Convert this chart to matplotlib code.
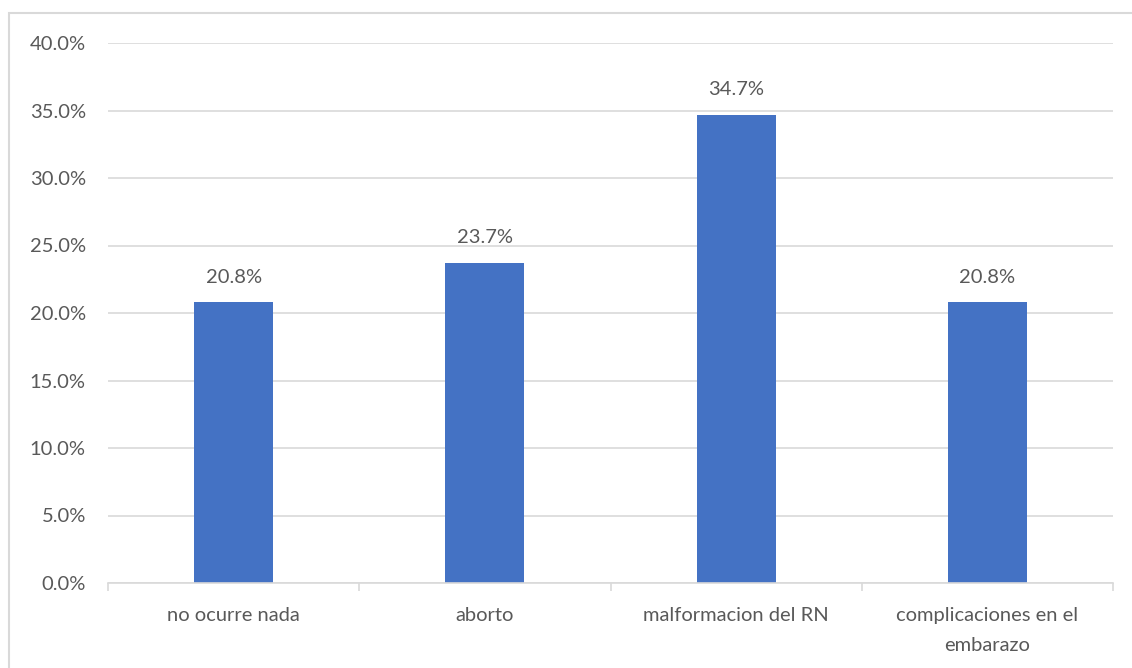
import matplotlib
matplotlib.use("Agg")
import matplotlib.pyplot as plt
from matplotlib.patches import Rectangle
from matplotlib.ticker import FuncFormatter, MultipleLocator

categories = ["no ocurre nada", "aborto", "malformacion del RN", "complicaciones en el\nembarazo"]
values = [20.8, 23.7, 34.7, 20.8]
labels = ["20.8%", "23.7%", "34.7%", "20.8%"]

plt.rcParams['font.family'] = ['Lato', 'DejaVu Sans']
W, H = 1132, 668
fig = plt.figure(figsize=(W / 100, H / 100), dpi=100)
fig.patch.set_facecolor("white")

# outer chart border (left and top visible)
fig.patches.append(Rectangle((9 / W, -0.1), 1.2, (H - 13) / H + 0.1, transform=fig.transFigure,
                             fill=False, edgecolor="#d9d9d9", linewidth=1.5))

ax = fig.add_axes([108 / W, (H - 583) / H, (1113 - 108) / W, (583 - 43) / H])
text_color = "#595959"
fs = 14.5
x = list(range(len(categories)))
bars = ax.bar(x, values, width=0.315, color="#4472C4", zorder=3)
ax.set_xlim(-0.5, len(categories) - 0.5)
ax.set_ylim(0, 40)
ax.yaxis.set_major_locator(MultipleLocator(5))
ax.yaxis.set_major_formatter(FuncFormatter(lambda v, p: f"{v:.1f}%"))
ax.grid(axis="y", color="#d9d9d9", linewidth=1.2, zorder=0)
for s in ["top", "right", "left"]:
    ax.spines[s].set_visible(False)
ax.spines["bottom"].set_color("#d9d9d9")
ax.spines["bottom"].set_linewidth(1.2)
ax.spines["bottom"].set_zorder(4)

ax.set_xticks(x)
ax.set_xticklabels(categories, fontsize=fs, color=text_color, linespacing=1.95)
ax.tick_params(axis="x", length=0, pad=17)
ax.set_xticks([i - 0.5 for i in range(len(categories) + 1)], minor=True)
ax.tick_params(axis="x", which="minor", length=6, color="#d9d9d9", width=1.2)
ax.tick_params(axis="y", length=0, labelsize=fs, labelcolor=text_color, pad=16)

for xi, v, lab in zip(x, values, labels):
    ax.annotate(lab, (xi, v), xytext=(0, 12), textcoords="offset points",
                ha="center", va="bottom", fontsize=fs, color=text_color)

fig.savefig("out.png", dpi=100, facecolor="white")
